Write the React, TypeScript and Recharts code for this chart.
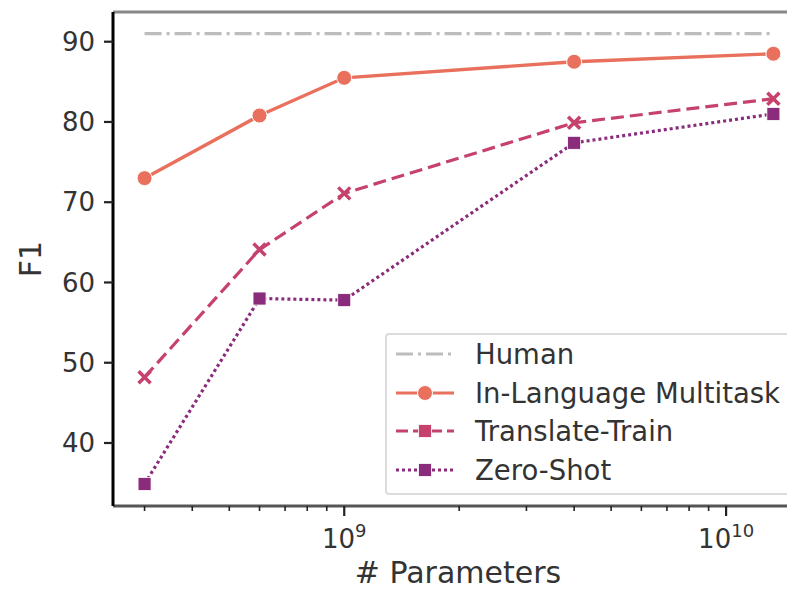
import React from 'react';
import { LineChart, Line, XAxis, YAxis, Legend, Label, ReferenceLine } from 'recharts';

// model sizes (number of parameters) and F1 scores per setting
const params = [3e8, 6e8, 1e9, 4e9, 1.33e10];
const human = [91.0, 91.0, 91.0, 91.0, 91.0];
const inLanguage = [73.0, 80.8, 85.5, 87.5, 88.5];
const translateTrain = [48.2, 64.1, 71.1, 79.9, 82.9];
const zeroShot = [34.9, 58.0, 57.8, 77.4, 81.0];

const xTicks = [3e8, 4e8, 5e8, 6e8, 7e8, 8e8, 9e8, 1e9, 2e9, 3e9, 4e9, 5e9, 6e9, 7e9, 8e9, 9e9, 1e10];
const yTicks = [40, 50, 60, 70, 80, 90];
const xDomain = [2.48e8, 1.59e10];
const yDomain = [32.15, 93.7];

const data = params.map((p, i) => ({
  params: p,
  human: human[i],
  inLanguage: inLanguage[i],
  translateTrain: translateTrain[i],
  zeroShot: zeroShot[i],
}));

const FONT = '"DejaVu Sans", sans-serif';
const C_HUMAN = '#bdbdbd';
const C_IN = '#e8705c';
const C_TT = '#c6426d';
const C_ZS = '#8a2b7c';

const CircleDot = (props: any) => (
  <circle key={props.index} cx={props.cx} cy={props.cy} r={7.5} fill={C_IN} stroke="#fff" strokeWidth={1} />
);

const XDot = (props: any) => {
  const { cx, cy } = props;
  const s = 6;
  return (
    <g key={props.index}>
      <line x1={cx - s} y1={cy - s} x2={cx + s} y2={cy + s} stroke={C_TT} strokeWidth={3.5} />
      <line x1={cx - s} y1={cy + s} x2={cx + s} y2={cy - s} stroke={C_TT} strokeWidth={3.5} />
    </g>
  );
};

const SquareDot = (props: any) => (
  <rect key={props.index} x={props.cx - 6.5} y={props.cy - 6.5} width={13} height={13} fill={C_ZS} stroke="#fff" strokeWidth={0.8} />
);

const XTick = (props: any) => {
  const { x, y, payload } = props;
  const exp = Math.log10(payload.value);
  const major = Math.abs(exp - Math.round(exp)) < 1e-6;
  return (
    <g>
      <line x1={x} x2={x} y1={y} y2={y + (major ? 10 : 5)} stroke="#222" strokeWidth={major ? 2.2 : 1.6} />
      {major && (
        <text x={x} y={y + 42} textAnchor="middle" fill="#333" fontSize={26} fontFamily={FONT}>
          <tspan>10</tspan>
          <tspan dy={-11} fontSize={18}>{Math.round(exp)}</tspan>
        </text>
      )}
    </g>
  );
};

const legendItems = [
  { name: 'Human', color: C_HUMAN, dash: '17 5 3 5', marker: 'none' },
  { name: 'In-Language Multitask', color: C_IN, dash: undefined, marker: 'circle' },
  { name: 'Translate-Train', color: C_TT, dash: '12 5', marker: 'square' },
  { name: 'Zero-Shot', color: C_ZS, dash: '3 3', marker: 'square' },
];

const LegendBox = () => (
  <div
    style={{
      border: '2px solid #dcdcdc',
      borderRadius: 4,
      background: 'rgba(255,255,255,0.85)',
      padding: '0 0 4px 8px',
      width: 440,
      fontFamily: FONT,
    }}
  >
    {legendItems.map((it) => (
      <div key={it.name} style={{ display: 'flex', alignItems: 'center', height: 38.5 }}>
        <svg width={60} height={20} style={{ marginRight: 20 }}>
          <line x1={1} x2={59} y1={10} y2={10} stroke={it.color} strokeWidth={3.2} strokeDasharray={it.dash} />
          {it.marker === 'circle' && <circle cx={30} cy={10} r={7.5} fill={it.color} stroke="#fff" strokeWidth={1} />}
          {it.marker === 'square' && <rect x={23.5} y={3.5} width={13} height={13} fill={it.color} stroke="#fff" strokeWidth={0.8} />}
        </svg>
        <span style={{ fontSize: 27.5, color: '#333', lineHeight: '30px' }}>{it.name}</span>
      </div>
    ))}
  </div>
);

export default function App() {
  return (
    <div style={{ position: 'absolute', left: 0, top: 0, width: 787, height: 589, overflow: 'hidden', background: '#fff' }}>
      <LineChart width={810} height={589} data={data} margin={{ top: 12, right: 7, bottom: 0, left: 0 }} style={{ fontFamily: FONT }}>
        <XAxis
          dataKey="params"
          type="number"
          scale="log"
          domain={xDomain}
          allowDataOverflow
          ticks={xTicks}
          interval={0}
          height={83}
          tickSize={0}
          tickMargin={0}
          tickLine={false}
          tick={<XTick />}
          axisLine={{ stroke: '#555', strokeWidth: 3 }}
        >
          <Label value="# Parameters" position="insideBottom" offset={6} fontSize={30} fill="#333" fontFamily={FONT} />
        </XAxis>
        <YAxis
          type="number"
          domain={yDomain}
          allowDataOverflow
          ticks={yTicks}
          width={113}
          tickSize={9}
          tickMargin={9}
          tick={{ fontSize: 26, fill: '#333', fontFamily: FONT }}
          tickLine={{ stroke: '#222', strokeWidth: 2.2 }}
          axisLine={{ stroke: '#000', strokeWidth: 3 }}
        >
          <Label
            content={(p: any) => {
              const vb = p.viewBox;
              const cx = vb.x + 30;
              const cy = vb.y + vb.height / 2;
              return (
                <text x={cx} y={cy} transform={`rotate(-90 ${cx} ${cy})`} textAnchor="middle" dominantBaseline="central" fontSize={30} fill="#333" fontFamily={FONT}>
                  F1
                </text>
              );
            }}
          />
        </YAxis>
        {/* top spine */}
        <ReferenceLine y={yDomain[1]} stroke="#888" strokeWidth={3} ifOverflow="visible" />
        <Legend
          layout="vertical"
          align="center"
          verticalAlign="middle"
          content={<LegendBox />}
          wrapperStyle={{ left: 385, top: 333, width: 440 }}
        />
        <Line dataKey="human" stroke={C_HUMAN} strokeWidth={3.2} strokeDasharray="17 5 3 5" dot={false} activeDot={false} isAnimationActive={false} />
        <Line dataKey="zeroShot" stroke={C_ZS} strokeWidth={3.2} strokeDasharray="3 3" dot={<SquareDot />} activeDot={false} isAnimationActive={false} />
        <Line dataKey="translateTrain" stroke={C_TT} strokeWidth={3.2} strokeDasharray="13 6" dot={<XDot />} activeDot={false} isAnimationActive={false} />
        <Line dataKey="inLanguage" stroke={C_IN} strokeWidth={3.4} dot={<CircleDot />} activeDot={false} isAnimationActive={false} />
      </LineChart>
    </div>
  );
}
